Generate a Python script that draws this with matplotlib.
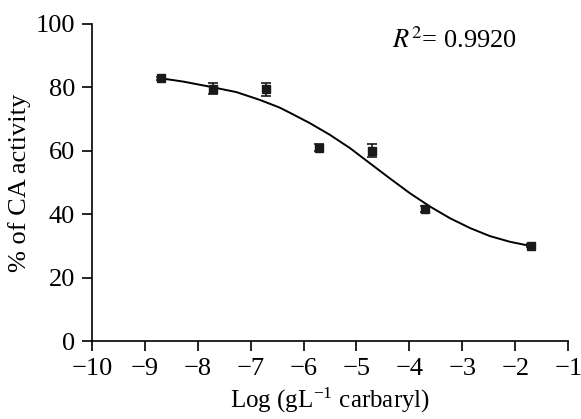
import numpy as np
import matplotlib
matplotlib.use('Agg')
import matplotlib.pyplot as plt

plt.rcParams['font.family'] = 'Liberation Serif'
plt.rcParams['mathtext.fontset'] = 'stix'

# measured points
log_conc = [-8.70, -7.71, -6.70, -5.70, -4.70, -3.70, -1.70]
activity = [82.8, 79.6, 79.4, 61.0, 60.0, 41.6, 30.1]
err = [0.6, 1.8, 2.0, 1.0, 2.0, 1.0, 0.6]

# fitted curve
fit_x = [-8.72, -8.27, -7.77, -7.27, -6.82, -6.45, -6.26, -5.88, -5.50, -5.12,
         -4.75, -4.37, -3.99, -3.61, -3.23, -2.85, -2.48, -2.10, -1.72]
fit_y = [82.9, 81.8, 80.2, 78.5, 76.0, 73.6, 72.0, 68.7, 65.0, 60.8,
         56.1, 51.3, 46.6, 42.4, 38.7, 35.6, 33.1, 31.3, 30.0]

xticks = list(range(-10, 0))
yticks = [0, 20, 40, 60, 80, 100]

fig = plt.figure(figsize=(5.81, 4.19), dpi=100)
ax = fig.add_axes([0.158, 0.186, 0.820, 0.757])

ax.plot(fit_x, fit_y, color='black', lw=1.4)
ax.errorbar(log_conc, activity, yerr=err, fmt='s', color='#1a1a1a',
            ms=6, capsize=3.5, elinewidth=1.2, capthick=1.2)

ax.set_xlim(-10, -1)
ax.set_ylim(0, 100)
ax.set_xticks(xticks)
ax.set_yticks(yticks)
ax.set_xticklabels(['\u2212%d' % abs(v) for v in xticks])

for s in ['top', 'right']:
    ax.spines[s].set_visible(False)
for s in ['left', 'bottom']:
    ax.spines[s].set_linewidth(1.2)
ax.tick_params(direction='out', length=7, width=1.2, labelsize=19, pad=5)

ax.set_xlabel('Log (gL$^{\\mathregular{-1}}$ carbaryl)', fontsize=18, labelpad=4)
ax.set_ylabel('% of CA activity', fontsize=19, labelpad=3)

ax.text(-4.32, 95, '$R^2$= 0.9920', fontsize=19, va='center', ha='left')

fig.savefig('out.png', dpi=100)
